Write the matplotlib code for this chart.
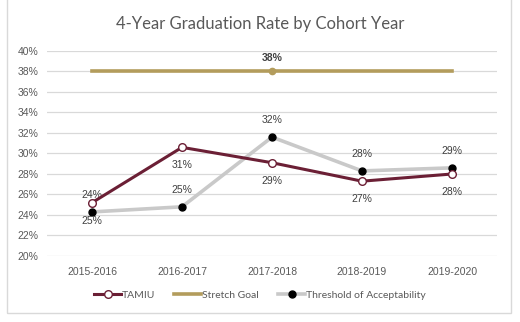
import matplotlib.pyplot as plt
from matplotlib.patches import Rectangle
from matplotlib.lines import Line2D

plt.rcParams['font.family'] = ['Lato', 'DejaVu Sans']

cohorts = ['2015-2016', '2016-2017', '2017-2018', '2018-2019', '2019-2020']
tamiu = [25.2, 30.6, 29.1, 27.3, 28.0]
stretch = [38, 38, 38, 38, 38]
threshold = [24.3, 24.8, 31.6, 28.3, 28.6]

maroon = '#6b1f35'
gold = '#b39c5c'
grey = '#c9c9c9'
txt = '#595959'
arial = ['Liberation Sans', 'DejaVu Sans']

fig = plt.figure(figsize=(5.2, 3.22), dpi=100)
fig.patches.append(Rectangle((7 / 520, 9 / 322), 504 / 520, 1.0, transform=fig.transFigure,
                             fill=False, edgecolor='#d9d9d9', linewidth=1))
ax = fig.add_axes([47 / 520, 1 - 256 / 322, 450 / 520, 205 / 322])

x = list(range(len(cohorts)))
ax.plot(x, stretch, color=gold, lw=2.6, marker='o', ms=4.5, markevery=[2], zorder=3)
ax.plot(x, threshold, color=grey, lw=2.6, marker='o', ms=5, mfc='black', mec='black', zorder=3)
ax.plot(x, tamiu, color=maroon, lw=2.2, marker='o', ms=5.5, mfc='white', mec=maroon, mew=1, zorder=4)

# data labels
for i, v in enumerate(tamiu):
    ax.annotate(f'{v:.0f}%', (i, v), xytext=(0, -13), textcoords='offset points',
                ha='center', va='center', fontsize=7.5, color='#404040', family=arial)
for i, v in enumerate(threshold):
    ax.annotate(f'{v:.0f}%', (i, v), xytext=(0, 12), textcoords='offset points',
                ha='center', va='center', fontsize=7.5, color='#404040', family=arial)
ax.annotate(f'{stretch[2]:.0f}%', (2, stretch[2]), xytext=(0, 10), textcoords='offset points',
            ha='center', va='center', fontsize=7.5, color='#404040', fontweight='bold', family=arial)

ax.set_xlim(-0.5, len(cohorts) - 0.5)
ax.set_ylim(20, 40)
ax.set_yticks(range(20, 41, 2))
ax.set_yticklabels([f'{t}%' for t in range(20, 41, 2)], family=arial)
ax.set_xticks(x)
ax.set_xticklabels(cohorts, family=arial)
ax.tick_params(length=0, labelsize=7.5, labelcolor=txt, pad=8)
ax.tick_params(axis='y', pad=6)
ax.grid(axis='y', color='#d9d9d9', lw=0.9)
ax.set_axisbelow(True)
for s in ax.spines.values():
    s.set_visible(False)

fig.text(0.5, 1 - 24 / 322, '4-Year Graduation Rate by Cohort Year', ha='center', va='center',
         fontsize=12, color=txt)

handles = [
    Line2D([], [], color=maroon, lw=2.2, marker='o', ms=5.5, mfc='white', mec=maroon),
    Line2D([], [], color=gold, lw=2.6),
    Line2D([], [], color=grey, lw=2.6, marker='o', ms=5, mfc='black', mec='black'),
]
fig.legend(handles, ['TAMIU', 'Stretch Goal', 'Threshold of Acceptability'], loc='center',
           bbox_to_anchor=(0.5, 1 - 295 / 322), ncol=3, frameon=False, fontsize=7.5,
           labelcolor=txt, handlelength=2.6, handletextpad=0.1, columnspacing=1.8)

fig.savefig('out.png', dpi=100)
